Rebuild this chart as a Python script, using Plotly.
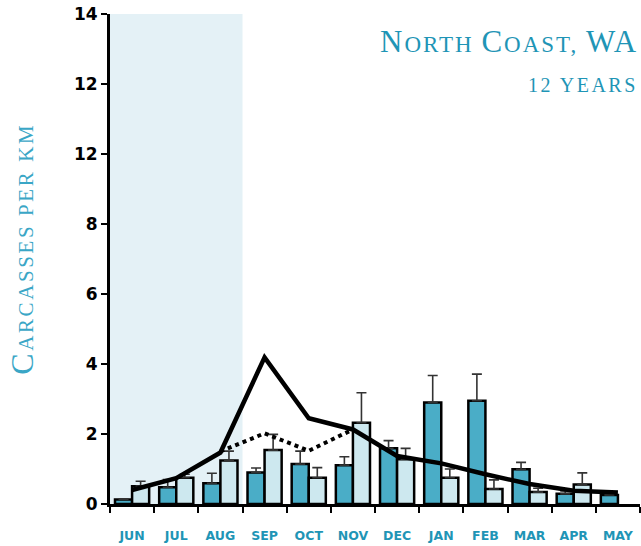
import plotly.graph_objects as go

# Monthly carcass density, two survey groups, with upper standard-error bars
months = ["JUN", "JUL", "AUG", "SEP", "OCT", "NOV", "DEC", "JAN", "FEB", "MAR", "APR", "MAY"]
dark_vals = [0.13, 0.48, 0.59, 0.90, 1.14, 1.11, 1.59, 2.90, 2.95, 0.99, 0.29, 0.26]
dark_err = [0.02, 0.22, 0.29, 0.13, 0.37, 0.24, 0.22, 0.77, 0.76, 0.20, 0.08, 0.07]
light_vals = [0.51, 0.75, 1.24, 1.54, 0.75, 2.32, 1.28, 0.75, 0.43, 0.34, 0.56, None]
light_err = [0.14, 0.10, 0.27, 0.45, 0.29, 0.86, 0.31, 0.25, 0.26, 0.11, 0.33, None]

# Long-term mean (solid) and partial-season mean (dotted)
solid_line = [0.40, 0.74, 1.47, 4.19, 2.45, 2.13, 1.37, 1.16, 0.85, 0.57, 0.38, 0.33]
dotted_months = ["AUG", "SEP", "OCT", "NOV"]
dotted_line = [1.50, 2.02, 1.52, 2.13]

y_tickvals = [0, 2, 4, 6, 8, 10, 12, 14]
y_ticktext = ["0", "2", "4", "6", "8", "12", "12", "14"]

TEAL = "#1f95b6"
DARK = "#4aadc7"
LIGHT = "#cde8ef"
SHADE = "#e4f1f6"

xc = [i + 0.5 for i in range(len(months))]
pos = {m: i + 0.5 for i, m in enumerate(months)}

fig = go.Figure()

fig.add_trace(go.Bar(
    x=xc, y=dark_vals,
    marker=dict(color=DARK, line=dict(color="black", width=2.5)),
    error_y=dict(type="data", symmetric=False, array=dark_err,
                 arrayminus=[0] * len(dark_err), color="#333333", thickness=1.6, width=5),
    hoverinfo="skip",
))
fig.add_trace(go.Bar(
    x=xc, y=light_vals,
    marker=dict(color=LIGHT, line=dict(color="black", width=2.5)),
    error_y=dict(type="data", symmetric=False, array=light_err,
                 arrayminus=[0] * len(light_err), color="#333333", thickness=1.6, width=5),
    hoverinfo="skip",
))

fig.add_trace(go.Scatter(
    x=xc, y=solid_line, mode="lines",
    line=dict(color="black", width=4.5),
    hoverinfo="skip",
))
fig.add_trace(go.Scatter(
    x=[pos[m] for m in dotted_months], y=dotted_line, mode="lines",
    line=dict(color="black", width=4, dash="dot"),
    hoverinfo="skip",
))

# Summer months highlighted
fig.add_shape(type="rect", xref="x", yref="y", x0=0, x1=3, y0=0, y1=14,
              fillcolor=SHADE, line=dict(width=0), layer="below")

serif = "Liberation Serif, Times New Roman, serif"
sans = "DejaVu Sans, Verdana, sans-serif"


def small_caps(word_parts, big, small, spacing):
    out = []
    for cap, rest in word_parts:
        s = ""
        if cap:
            s += f"<span style='font-size:{big}px;letter-spacing:{spacing}px'>{cap}</span>"
        if rest:
            s += f"<span style='font-size:{small}px;letter-spacing:{spacing}px'>{rest}</span>"
        out.append(s)
    return "".join(out)


title_txt = small_caps([("N", "ORTH "), ("C", "OAST, "), ("WA", "")], 31, 23, 2)
sub_txt = small_caps([("", "12 YEARS")], 20, 20, 2.5)
ytitle_txt = small_caps([("C", "ARCASSES PER KM")], 32, 21, 2.6)

fig.add_annotation(xref="paper", yref="paper", x=1.0, y=0.943, xanchor="right", yanchor="middle",
                   text=title_txt, showarrow=False, font=dict(family=serif, color=TEAL, size=23))
fig.add_annotation(xref="paper", yref="paper", x=1.0, y=0.855, xanchor="right", yanchor="middle",
                   text=sub_txt, showarrow=False, font=dict(family=serif, color=TEAL, size=20))
fig.add_annotation(xref="paper", yref="paper", x=-0.165, y=0.52, xanchor="center", yanchor="middle",
                   text=ytitle_txt, textangle=-90, showarrow=False,
                   font=dict(family=serif, color="#3aa6c6", size=21))

fig.update_layout(
    width=641, height=546,
    margin=dict(l=110, r=1, t=14, b=42),
    plot_bgcolor="white", paper_bgcolor="white",
    barmode="group", bargap=0.227, bargroupgap=0,
    showlegend=False,
    xaxis=dict(
        range=[0, 12], tickmode="array", tickvals=xc, ticktext=months,
        ticks="", showgrid=False, zeroline=False,
        showline=True, linecolor="black", linewidth=3,
        tickfont=dict(family=sans, size=12.5, color=TEAL, weight="bold"),
        ticklabelstandoff=18,
        minor=dict(ticks="outside", tick0=0, dtick=1, ticklen=6, tickwidth=2,
                   tickcolor="black", showgrid=False),
    ),
    yaxis=dict(
        range=[0, 14], tickmode="array", tickvals=y_tickvals, ticktext=y_ticktext,
        ticks="outside", ticklen=6, tickwidth=2, tickcolor="black",
        showgrid=False, zeroline=False,
        showline=True, linecolor="black", linewidth=3,
        tickfont=dict(family=sans, size=17, color="black", weight="bold"),
    ),
)

fig.write_html("out.html")
